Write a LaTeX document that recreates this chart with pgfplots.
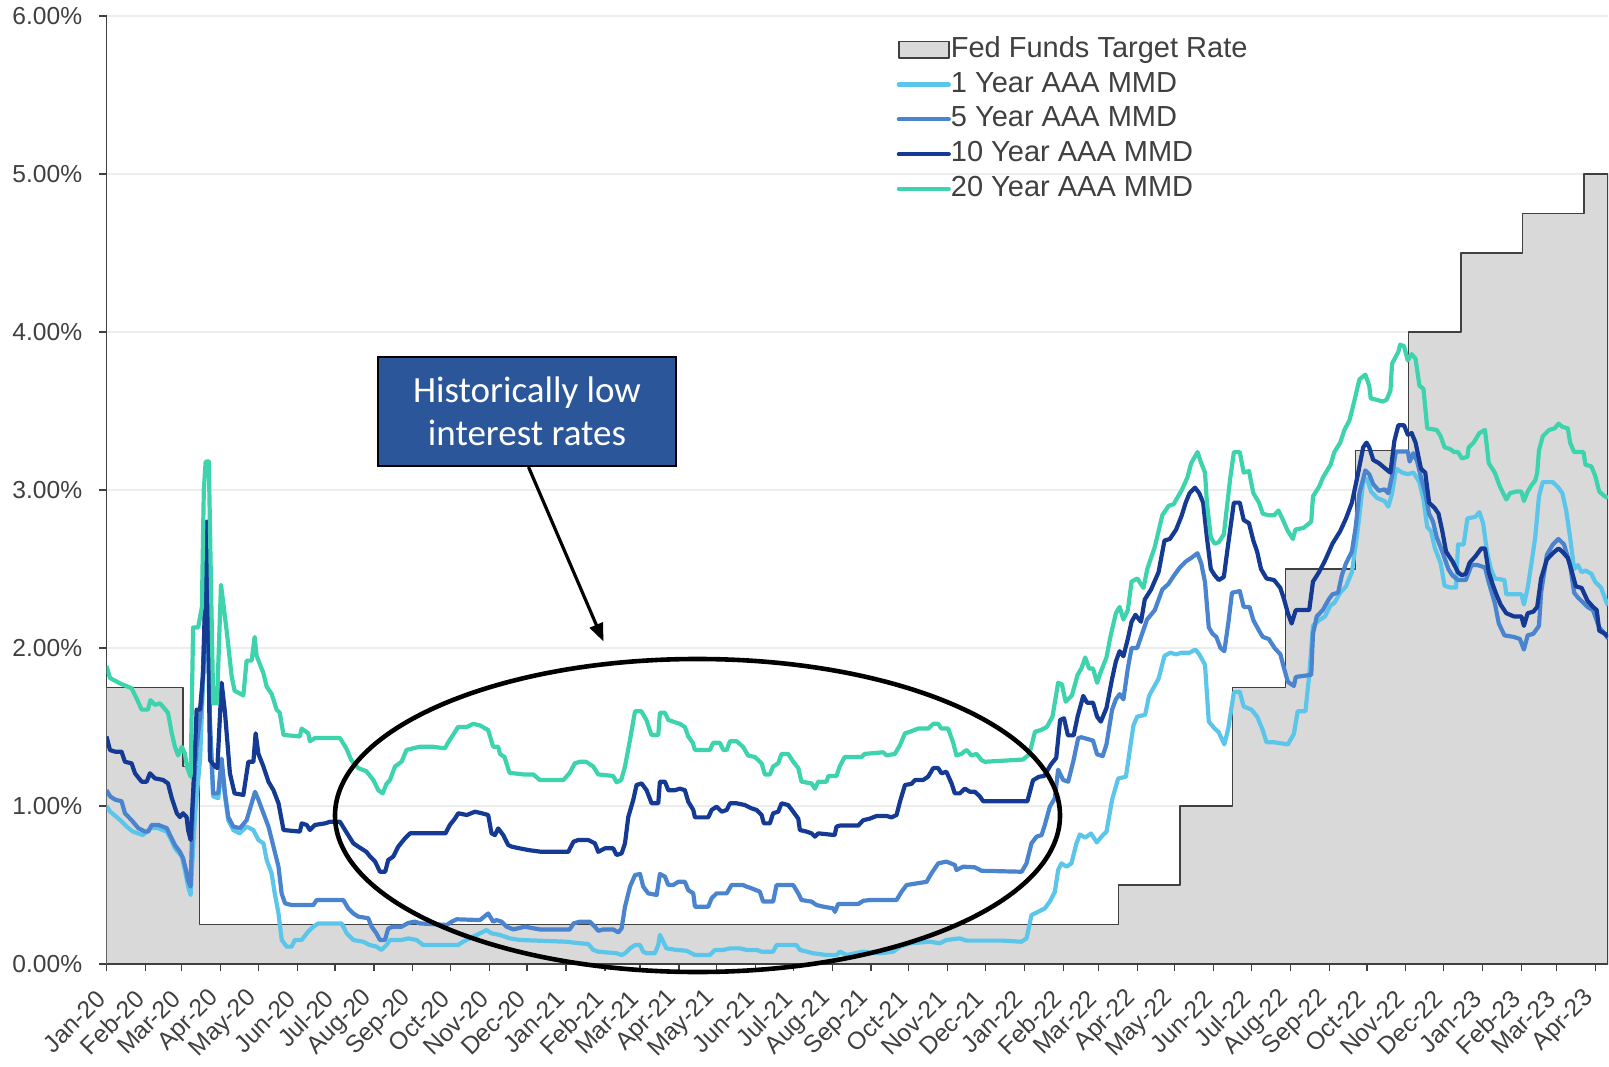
\documentclass[border=0pt]{standalone}
\usepackage{pgfplots}
\pgfplotsset{compat=1.18}
\usetikzlibrary{arrows.meta}
\usepackage{fontspec}
\setmainfont{Liberation Sans}
\newfontfamily\calibri{Carlito}
\definecolor{c1}{HTML}{5BC5EA}
\definecolor{c5}{HTML}{4A84CF}
\definecolor{c10}{HTML}{143A94}
\definecolor{c20}{HTML}{3DD3AC}
\definecolor{fedfill}{HTML}{D9D9D9}
\definecolor{fedline}{HTML}{404040}
\definecolor{txt}{HTML}{404040}
\definecolor{boxblue}{HTML}{2B579A}
\begin{document}
\begin{tikzpicture}
\path[use as bounding box] (0,0) rectangle (804.5pt,533pt);
\begin{axis}[
  at={(53.25pt,51pt)}, anchor=south west,
  scale only axis, width=750.75pt, height=474pt,
  xmin=0, xmax=1196, ymin=0, ymax=6,
  axis lines=left, axis line style={-, draw=txt, line width=0.8pt},
  ytick={0,1,2,3,4,5,6},
  yticklabels={0.00\%,1.00\%,2.00\%,3.00\%,4.00\%,5.00\%,6.00\%},
  xtick={0,31,60,91,121,152,182,213,244,274,305,335,366,397,425,456,486,517,547,578,609,639,670,700,731,762,790,821,851,882,912,943,974,1004,1035,1065,1096,1127,1155,1186},
  xticklabels={Jan-20,Feb-20,Mar-20,Apr-20,May-20,Jun-20,Jul-20,Aug-20,Sep-20,Oct-20,Nov-20,Dec-20,Jan-21,Feb-21,Mar-21,Apr-21,May-21,Jun-21,Jul-21,Aug-21,Sep-21,Oct-21,Nov-21,Dec-21,Jan-22,Feb-22,Mar-22,Apr-22,May-22,Jun-22,Jul-22,Aug-22,Sep-22,Oct-22,Nov-22,Dec-22,Jan-23,Feb-23,Mar-23,Apr-23},
  tick align=outside, major tick length=3.6pt,
  tick style={draw=txt, line width=0.6pt},
  ymajorgrids, grid style={draw=black!7, line width=0.6pt},
  tick label style={font=\fontsize{12.3}{14}\selectfont, text=txt},
  xticklabel style={xshift=-2pt, yshift=-11pt, rotate=45, anchor=east, inner sep=1pt},
  yticklabel style={xshift=-5pt},
  legend style={at={(0.526,0.978)}, anchor=north west, draw=none, fill=none,
    inner sep=0pt, row sep=4.9pt, font=\fontsize{14.5}{16}\selectfont, text=txt,
    nodes={inner sep=0pt, text height=10pt, text depth=2.5pt},
    /tikz/every even column/.append style={column sep=2.5pt}},
  legend cell align=left,
  legend image code/.code={\draw[#1,line cap=round] (0pt,0pt) -- (25pt,0pt);},
  every axis plot/.append style={line join=round},
]
\addplot[const plot, fill=fedfill, draw=fedline, line width=0.7pt,
  legend image code/.code={\draw[fill=fedfill,draw=fedline,line width=0.8pt] (0pt,-4.2pt) rectangle (25pt,4.2pt);}]
 coordinates {(0,1.75)(61,1.25)(74,0.25)(806,0.5)(855,1.0)(897,1.75)(939,2.5)(995,3.25)(1037,4.0)(1079,4.5)(1128,4.75)(1177,5.0)(1196,5.0)} \closedcycle;
\addlegendentry{Fed Funds Target Rate}
\addplot[c1, line width=2.1pt] coordinates {
(0,1.00)(3,0.964)(11,0.91)(16,0.87)(21,0.838)(29,0.816)(35,0.86)(41,0.86)(48,0.838)(51,0.795)(54.5,0.732)(60,0.68)(63,0.574)(65,0.49)(67,0.437)(70.5,0.954)(74.5,1.29)(78,2.0)(80,2.45)(82.4,1.48)(85,1.06)(89,1.05)(91.7,1.25)(94.4,1.06)(97,0.91)(101,0.848)(106,0.827)(111.6,0.87)(117,0.848)(121,0.785)(125,0.764)(127.6,0.658)(131.5,0.574)(134,0.447)(137,0.32)(139.6,0.152)(143.5,0.11)(147.5,0.11)(150,0.152)(155.4,0.152)(160.7,0.205)(164.7,0.236)(168.7,0.257)(187.3,0.257)(191.3,0.194)(196.6,0.152)(204.5,0.141)(209.8,0.12)(215,0.11)(219,0.089)(223,0.12)(225.8,0.152)(235,0.152)(240.4,0.162)(247,0.152)(252.3,0.12)(280,0.12)(284,0.141)(292,0.173)(297.5,0.194)(302.7,0.215)(306.7,0.194)(313.4,0.184)(321.4,0.162)(329.3,0.152)(366.5,0.141)(377,0.131)(383.7,0.127)(387.7,0.089)(391.7,0.078)(406.3,0.068)(410.3,0.057)(413,0.068)(417,0.099)(421,0.12)(425,0.12)(427.5,0.078)(430.2,0.068)(436.8,0.068)(439.5,0.12)(440.8,0.184)(443.5,0.141)(446,0.099)(454,0.089)(462,0.084)(468.7,0.057)(480.6,0.057)(484.6,0.089)(491.3,0.089)(496.6,0.099)(504.5,0.099)(509.8,0.089)(517.8,0.089)(521.8,0.078)(531,0.078)(533.7,0.12)(549.6,0.12)(552.3,0.089)(563,0.068)(573.5,0.057)(581.5,0.057)(584.2,0.078)(589.5,0.057)(602.8,0.078)(616,0.068)(626.6,0.078)(632,0.11)(640,0.131)(655.8,0.141)(663.8,0.131)(669,0.152)(679.7,0.162)(685,0.148)(714,0.148)(728.8,0.141)(732.8,0.162)(736.8,0.31)(742,0.33)(747.4,0.352)(751.4,0.395)(755.4,0.458)(758,0.595)(760.7,0.637)(764.7,0.616)(768.6,0.637)(772.6,0.764)(775.3,0.82)(779.6,0.80)(784.2,0.826)(788.8,0.77)(793.5,0.815)(796.5,0.837)(801,1.04)(805.8,1.174)(812,1.185)(815,1.35)(818,1.51)(821,1.566)(827.3,1.577)(830.4,1.697)(835,1.763)(838,1.806)(842.7,1.95)(847.3,1.97)(852,1.96)(856.5,1.97)(862.7,1.97)(867.3,1.99)(870.4,1.96)(875,1.893)(878,1.534)(882.7,1.49)(885.8,1.468)(890.4,1.39)(893.5,1.49)(898,1.72)(902.7,1.723)(905.8,1.63)(912,1.61)(916.5,1.566)(921,1.48)(924,1.403)(930.4,1.403)(941,1.39)(945.8,1.457)(948.8,1.60)(955,1.60)(958,1.828)(961,2.14)(965.8,2.176)(970.4,2.198)(975,2.27)(978,2.285)(982.7,2.35)(987.3,2.39)(992,2.48)(996.5,2.74)(1001,3.05)(1004,3.07)(1007.3,2.99)(1012,2.95)(1018,2.93)(1021,2.895)(1024,2.98)(1027.3,3.135)(1032,3.11)(1036.5,3.10)(1041,3.11)(1045.8,3.05)(1049,2.94)(1052,2.765)(1055,2.74)(1058,2.634)(1062.7,2.536)(1065.8,2.394)(1070.4,2.383)(1075,2.383)(1076.5,2.655)(1081,2.655)(1084,2.82)(1090.4,2.83)(1093.5,2.86)(1096.5,2.79)(1099.6,2.61)(1102.7,2.50)(1105.8,2.44)(1113.5,2.43)(1115,2.34)(1127,2.34)(1129,2.275)(1132,2.38)(1135,2.536)(1138,2.70)(1141,2.96)(1144,3.05)(1152,3.05)(1156.5,3.015)(1159.6,2.98)(1162.7,2.87)(1165.8,2.70)(1169,2.50)(1172,2.525)(1175,2.48)(1178,2.49)(1182.7,2.47)(1186,2.416)(1190.4,2.383)(1195,2.285)(1196,2.27)};
\addlegendentry{1 Year AAA MMD}
\addplot[c5, line width=2.1pt] coordinates {
(0,1.10)(3,1.06)(7,1.04)(12,1.03)(14.7,0.954)(20,0.91)(25.3,0.86)(30.7,0.838)(33.3,0.838)(36,0.88)(41.3,0.88)(48,0.86)(50.6,0.816)(54.5,0.753)(58.5,0.71)(61,0.67)(63.3,0.595)(65,0.53)(67,0.49)(69,1.06)(71.8,1.375)(75.8,1.65)(78.5,2.22)(80,2.58)(82.4,1.54)(85,1.08)(89,1.08)(91.7,1.30)(94.4,1.08)(97,0.93)(101,0.87)(106.3,0.86)(111.6,0.91)(115.6,1.017)(118.3,1.09)(121,1.04)(125,0.954)(129,0.87)(133,0.743)(137,0.616)(139.5,0.447)(142.2,0.384)(147.5,0.373)(164.7,0.373)(167.4,0.405)(188.6,0.405)(192.6,0.352)(196.6,0.32)(200.5,0.30)(208.5,0.29)(211.2,0.236)(215,0.194)(217.8,0.152)(221.8,0.152)(224.4,0.225)(228.4,0.236)(235,0.236)(240.4,0.26)(245.7,0.268)(249.7,0.257)(271,0.247)(275,0.268)(279,0.283)(297.5,0.278)(304,0.32)(308,0.268)(310.7,0.278)(314.7,0.268)(318.7,0.236)(324,0.219)(333.3,0.236)(340,0.226)(345,0.219)(369,0.219)(372,0.257)(377,0.268)(385,0.268)(389,0.236)(391.7,0.21)(395.7,0.219)(403.6,0.219)(407.6,0.20)(410.3,0.226)(413,0.363)(417,0.49)(421,0.563)(425,0.57)(427.5,0.49)(431.5,0.447)(438.2,0.437)(440.8,0.57)(444.8,0.553)(447.5,0.50)(451.4,0.50)(455.4,0.52)(460.7,0.52)(463.4,0.468)(467.4,0.447)(468.7,0.363)(479.3,0.363)(482,0.416)(486,0.447)(494,0.447)(497.9,0.50)(507,0.50)(509.8,0.49)(513.8,0.479)(520.4,0.458)(523,0.395)(531,0.395)(533.7,0.50)(547,0.50)(551,0.447)(553.6,0.405)(561.6,0.395)(565.6,0.373)(570.9,0.363)(578.9,0.352)(580.2,0.33)(582.8,0.38)(598.8,0.38)(602.8,0.40)(608,0.405)(629.3,0.405)(633.3,0.458)(637.3,0.50)(653.2,0.52)(657.1,0.574)(662.5,0.637)(669,0.648)(675.7,0.627)(677,0.595)(682.4,0.616)(691.7,0.612)(697,0.59)(729,0.584)(732.8,0.637)(736.8,0.764)(740.8,0.806)(744.8,0.816)(747.4,0.88)(751.4,0.996)(755.4,1.05)(758,1.23)(762,1.165)(766,1.154)(770,1.28)(774,1.43)(776.5,1.435)(781,1.425)(785.8,1.414)(789,1.327)(793.5,1.316)(796.5,1.39)(801,1.61)(804,1.675)(807,1.708)(810,1.675)(813.5,1.87)(816.5,2.0)(821,2.0)(824,2.07)(828.8,2.18)(835,2.24)(841,2.37)(845.8,2.405)(850.4,2.46)(855,2.51)(859.6,2.547)(864,2.57)(869,2.60)(872,2.536)(875,2.416)(878,2.13)(881,2.09)(884,2.07)(887.3,2.0)(890.4,1.98)(893.5,2.155)(896.5,2.35)(902.7,2.36)(905.8,2.26)(910.4,2.26)(913.5,2.176)(918,2.11)(921,2.07)(925.8,2.057)(930.4,2.0)(935,1.96)(938,1.87)(941,1.785)(945.8,1.76)(947.3,1.817)(959.6,1.83)(961,2.09)(964,2.20)(968.8,2.24)(973.5,2.307)(976.5,2.34)(981,2.35)(984,2.46)(987.3,2.536)(992,2.61)(995,2.765)(998,2.98)(1002.7,3.124)(1005.8,3.10)(1009,3.037)(1013.5,2.995)(1018,3.004)(1021,2.98)(1024,3.09)(1027,3.244)(1036.5,3.244)(1038,3.18)(1041,3.233)(1044,3.18)(1047,3.08)(1050.4,2.98)(1053.5,2.85)(1056.6,2.80)(1059.6,2.70)(1064,2.61)(1068.8,2.50)(1072,2.46)(1076.5,2.43)(1082.7,2.43)(1087.3,2.525)(1092,2.525)(1098,2.51)(1101,2.416)(1105.8,2.285)(1109,2.155)(1113.5,2.08)(1121,2.07)(1125.8,2.057)(1129,1.99)(1132,2.08)(1136.5,2.09)(1141,2.14)(1142.7,2.35)(1147.3,2.59)(1152,2.655)(1156.5,2.69)(1161,2.655)(1165.8,2.525)(1169,2.35)(1172,2.32)(1176.5,2.285)(1179.6,2.26)(1184,2.24)(1189,2.13)(1193.5,2.09)(1196,2.06)};
\addlegendentry{5 Year AAA MMD}
\addplot[c10, line width=2.1pt] coordinates {
(0,1.44)(2.8,1.354)(6.8,1.344)(12,1.344)(14.7,1.28)(20,1.27)(22.7,1.207)(28,1.154)(32,1.154)(34.6,1.207)(38.6,1.175)(45,1.165)(49,1.143)(52,1.05)(56,0.954)(58.5,0.93)(61,0.954)(63.8,0.93)(65,0.848)(67,0.785)(69,1.08)(71.8,1.61)(74.5,1.61)(77,1.84)(80,2.80)(82.4,1.29)(86.4,1.25)(88.3,1.24)(91.7,1.78)(94.4,1.59)(98.3,1.207)(102,1.08)(109,1.07)(113,1.28)(117,1.28)(118.8,1.46)(121,1.33)(125,1.25)(129,1.154)(133,1.10)(137,1.017)(141,0.848)(154,0.838)(155.5,0.89)(159.5,0.88)(162,0.848)(166,0.88)(174,0.89)(178,0.90)(186,0.90)(190,0.848)(196.6,0.764)(200.5,0.743)(207,0.71)(210,0.68)(214,0.648)(217.8,0.584)(222,0.584)(224.4,0.658)(228.4,0.68)(232.4,0.743)(237.7,0.795)(241.7,0.827)(270,0.827)(273.5,0.88)(277.5,0.92)(280.2,0.954)(287,0.943)(293.5,0.964)(299,0.954)(304,0.943)(306.7,0.827)(309.4,0.816)(312,0.858)(316,0.816)(320,0.753)(322.7,0.743)(329,0.732)(337,0.72)(346.5,0.71)(367.8,0.71)(372,0.774)(375.8,0.785)(383.7,0.785)(389,0.764)(391.7,0.71)(397,0.732)(403.6,0.732)(406.3,0.69)(410.3,0.70)(413,0.764)(415.6,0.93)(419.6,1.04)(422.2,1.133)(426.2,1.143)(430.2,1.10)(434.2,1.017)(439.5,1.017)(440.8,1.154)(444.8,1.154)(447.5,1.10)(452.8,1.10)(456.7,1.11)(460.7,1.10)(463.4,1.027)(467.4,0.975)(468.7,0.928)(479.3,0.928)(482,0.975)(486,0.996)(490,0.964)(494,0.975)(496.6,1.017)(502,1.017)(508.5,1.006)(513.8,0.985)(517.8,0.975)(521.8,0.943)(523.6,0.89)(528.4,0.89)(531,0.954)(535,0.964)(537.7,1.017)(543,1.006)(547,0.964)(551,0.92)(552.3,0.848)(557.6,0.838)(561.6,0.827)(564.3,0.806)(567,0.827)(580,0.816)(581.5,0.87)(584,0.876)(598.8,0.876)(602.7,0.91)(608,0.92)(613.4,0.937)(621.3,0.937)(625.3,0.928)(629.3,0.943)(632,1.027)(636,1.133)(641.2,1.14)(644,1.165)(650.5,1.165)(654.5,1.186)(658.5,1.24)(662.5,1.24)(665,1.207)(669,1.217)(673.1,1.143)(675.7,1.08)(679.7,1.08)(683.7,1.11)(687.7,1.09)(691.7,1.09)(695.7,1.06)(698.3,1.03)(733.5,1.03)(738,1.163)(742.7,1.185)(747,1.19)(752,1.26)(756.5,1.305)(759.6,1.545)(762.7,1.555)(765.8,1.447)(770.4,1.447)(773.5,1.566)(778,1.697)(781,1.654)(785.8,1.654)(789,1.566)(792,1.534)(796.5,1.62)(801,1.806)(804,1.915)(807,1.98)(810,1.948)(813.5,2.057)(816.5,2.166)(819.6,2.21)(824,2.166)(827,2.307)(832,2.37)(838,2.48)(842.7,2.68)(847,2.69)(852,2.75)(856.5,2.84)(859.6,2.92)(862.7,2.98)(867,3.015)(870.4,2.98)(873.5,2.92)(876.5,2.70)(879.6,2.50)(882.7,2.46)(886,2.43)(890,2.45)(893.5,2.66)(898,2.92)(902.7,2.92)(905.8,2.81)(910,2.79)(913.5,2.68)(916.5,2.61)(919.6,2.50)(924,2.44)(930,2.43)(935,2.38)(938,2.307)(941,2.22)(944,2.155)(947.3,2.24)(958,2.24)(961,2.42)(965.8,2.48)(970.4,2.55)(976.5,2.66)(982.7,2.74)(987.3,2.82)(992,2.92)(996.5,3.09)(1001,3.27)(1003.6,3.30)(1005.8,3.27)(1009,3.19)(1013.5,3.17)(1016.5,3.15)(1021,3.12)(1022.7,3.11)(1025.8,3.31)(1029,3.41)(1033.5,3.41)(1036.5,3.35)(1039.6,3.36)(1042.7,3.30)(1047,3.135)(1050.4,3.11)(1053.5,2.92)(1058,2.885)(1061,2.85)(1064,2.74)(1067,2.61)(1072,2.55)(1076.5,2.48)(1079.6,2.46)(1082.7,2.47)(1085.8,2.54)(1090.4,2.58)(1095,2.63)(1098,2.63)(1101,2.48)(1104,2.405)(1107,2.34)(1110.4,2.275)(1115,2.22)(1121,2.20)(1127,2.20)(1129,2.14)(1132,2.22)(1136.5,2.23)(1139.6,2.26)(1142.7,2.44)(1147.3,2.56)(1152,2.60)(1156.5,2.63)(1159.6,2.61)(1164,2.57)(1167.3,2.48)(1170.4,2.39)(1175,2.38)(1179.6,2.30)(1184,2.26)(1187,2.24)(1189,2.11)(1193.5,2.09)(1196,2.07)};
\addlegendentry{10 Year AAA MMD}
\addplot[c20, line width=2.1pt] coordinates {
(0,1.886)(2.8,1.81)(10.8,1.776)(20,1.745)(24,1.68)(28,1.61)(33,1.61)(35,1.67)(38.6,1.64)(42.6,1.65)(49,1.59)(52,1.46)(54.5,1.375)(57,1.32)(60,1.375)(62.5,1.33)(64,1.25)(67,1.186)(69,2.13)(73,2.13)(76,2.26)(77.5,3.0)(79,3.18)(81.5,3.18)(83,2.5)(85,1.65)(88,1.65)(91.2,2.40)(95.7,2.11)(99.7,1.82)(102,1.73)(109,1.70)(111.6,1.92)(115.6,1.92)(118,2.07)(119.6,1.95)(125,1.84)(127.6,1.755)(131.5,1.71)(135.5,1.61)(138,1.59)(141,1.45)(154,1.44)(155.4,1.49)(160.7,1.46)(162,1.41)(166,1.43)(186,1.43)(191,1.365)(195,1.29)(200.5,1.24)(207,1.22)(212.5,1.165)(216.5,1.10)(220,1.08)(223,1.14)(225.8,1.165)(229.8,1.25)(235,1.28)(239,1.355)(244,1.365)(249.7,1.375)(260,1.375)(269.6,1.365)(272,1.40)(276,1.45)(280,1.50)(287,1.50)(292,1.52)(297.5,1.51)(304,1.48)(308,1.375)(312,1.375)(313.4,1.33)(317,1.31)(321,1.21)(332,1.20)(340,1.20)(345,1.165)(364,1.165)(369,1.21)(373,1.27)(377,1.28)(382,1.28)(387.7,1.25)(391.7,1.20)(403.6,1.19)(406.3,1.15)(410,1.165)(413,1.25)(417,1.42)(421,1.60)(426,1.60)(430,1.545)(434,1.45)(439.5,1.45)(440.8,1.59)(444.8,1.59)(447.5,1.545)(452.8,1.53)(456.7,1.52)(460.7,1.50)(463.4,1.44)(467,1.40)(468.7,1.355)(480.6,1.355)(483.3,1.40)(488.6,1.40)(491.3,1.355)(494,1.355)(496.6,1.41)(501.9,1.41)(507,1.375)(511,1.32)(516.5,1.31)(521.8,1.27)(524.4,1.20)(528.4,1.20)(531,1.25)(535,1.27)(537.7,1.33)(543,1.33)(547,1.28)(551,1.24)(553.6,1.154)(561.6,1.143)(564.3,1.11)(567,1.154)(573.5,1.154)(575,1.19)(581.5,1.19)(584,1.25)(588,1.31)(601.4,1.31)(604,1.33)(618.7,1.34)(621.3,1.32)(628,1.33)(632,1.385)(636,1.46)(640,1.47)(646.5,1.49)(654.5,1.49)(658.5,1.52)(662.5,1.52)(665,1.49)(670.4,1.49)(674.4,1.40)(677,1.32)(681,1.33)(685,1.355)(689,1.32)(693,1.33)(697,1.29)(699.6,1.28)(730,1.294)(735,1.327)(739.6,1.47)(744,1.48)(749,1.50)(753.5,1.566)(758,1.78)(761,1.77)(764,1.66)(769,1.70)(773.5,1.83)(776.5,1.87)(779.6,1.94)(782.7,1.87)(785.8,1.87)(789,1.78)(792,1.85)(796.5,1.94)(799.6,2.07)(804,2.22)(807,2.26)(810,2.18)(813.5,2.24)(816.5,2.42)(821,2.44)(826,2.38)(829,2.50)(835,2.64)(841,2.84)(846,2.90)(850,2.91)(856.5,3.00)(861,3.08)(864,3.17)(869,3.24)(872,3.17)(875,3.11)(876.5,2.92)(879.6,2.70)(882.7,2.66)(886,2.67)(890,2.72)(895,3.07)(898,3.24)(902.7,3.24)(905.8,3.11)(910,3.12)(913.5,2.98)(918,2.92)(921,2.85)(925.8,2.84)(930,2.84)(933.5,2.87)(936.5,2.82)(941,2.74)(945,2.69)(947,2.75)(953.5,2.76)(959.6,2.80)(961,2.96)(965.8,3.02)(969,3.08)(975,3.16)(978,3.24)(982.7,3.30)(986,3.38)(990,3.44)(993.5,3.55)(998,3.70)(1002.7,3.73)(1005.8,3.66)(1007,3.58)(1012,3.57)(1016.5,3.56)(1019.6,3.57)(1022.7,3.63)(1024,3.80)(1029,3.875)(1030.4,3.92)(1033.5,3.91)(1036.5,3.82)(1039.6,3.86)(1042.7,3.83)(1045.8,3.66)(1049,3.64)(1052,3.39)(1059.6,3.38)(1062.7,3.34)(1065.8,3.27)(1070,3.26)(1073.5,3.24)(1076.5,3.24)(1079.6,3.20)(1084,3.21)(1085,3.27)(1089,3.30)(1093.5,3.36)(1098,3.38)(1099.6,3.27)(1101,3.17)(1105.8,3.11)(1110,3.02)(1115,2.94)(1118,2.98)(1122.7,2.99)(1127,2.99)(1129,2.93)(1132,2.99)(1135,3.03)(1138,3.06)(1139.6,3.11)(1141,3.25)(1144,3.34)(1149,3.38)(1153.5,3.39)(1156.6,3.42)(1159.6,3.40)(1164,3.39)(1165.8,3.30)(1169,3.24)(1176.5,3.24)(1178,3.16)(1182.7,3.15)(1185.8,3.09)(1189,2.99)(1193.5,2.96)(1196,2.95)};
\addlegendentry{20 Year AAA MMD}
\end{axis}
\draw[line width=2.3pt] (348.75pt,125.25pt) ellipse [x radius=181.25pt, y radius=78.25pt];
\draw[line width=1.6pt, -{Triangle[length=9pt,width=7pt]}] (264.25pt,299.5pt) -- (301.7pt,212.3pt);
\node[fill=boxblue, draw=black, line width=0.6pt, minimum width=149pt, minimum height=54.5pt, inner sep=0pt,
  text=white, align=center, font=\calibri\fontsize{18.5}{21.5}\selectfont] at (263.5pt,327.25pt)
  {Historically low\\interest rates};
\end{tikzpicture}
\end{document}
